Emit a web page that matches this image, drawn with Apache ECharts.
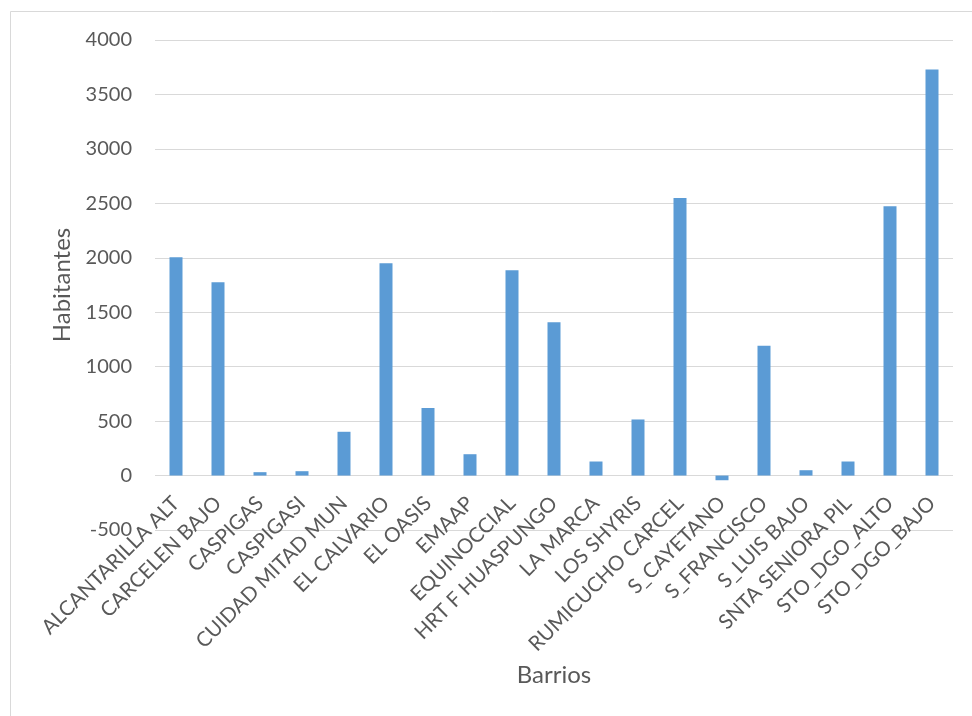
<!DOCTYPE html>
<html><head><meta charset="utf-8">
<script src="https://cdn.jsdelivr.net/npm/echarts@6/dist/echarts.min.js"></script>
<style>html,body{margin:0;padding:0;background:#fff}#c{width:972px;height:716px}</style>
</head><body><div id="c"></div>
<script>
const categories = ["ALCANTARILLA ALT","CARCELEN BAJO","CASPIGAS","CASPIGASI","CUIDAD MITAD MUN","EL CALVARIO","EL OASIS","EMAAP","EQUINOCCIAL","HRT F HUASPUNGO","LA MARCA","LOS SHYRIS","RUMICUCHO CARCEL","S_CAYETANO","S_FRANCISCO","S_LUIS BAJO","SNTA SENIORA PIL","STO_DGO_ALTO","STO_DGO_BAJO"];
const habitantes = [2005,1775,31,40,402,1950,620,196,1886,1407,129,515,2548,-43,1193,49,129,2474,3728];
const yMin = -500, yMax = 4000, yStep = 500;
const xTitle = "Barrios", yTitle = "Habitantes";

const chart = echarts.init(document.getElementById('c'), null, {renderer:'canvas'});
const font = 'Lato, "Open Sans", sans-serif';
chart.setOption({
  animation:false,
  backgroundColor:'#fff',
  graphic:[{type:'rect',shape:{x:10.5,y:11.5,width:980,height:720},style:{fill:'none',stroke:'#d9d9d9',lineWidth:1},silent:true}],
  grid:{left:155,right:19,top:40,bottom:186,containLabel:false,outerBoundsMode:'none'},
  xAxis:{
    type:'category',data:categories,position:'bottom',
    axisLine:{show:false,onZero:false},
    axisTick:{show:false},
    axisLabel:{rotate:45,interval:0,margin:-30,color:'#595959',fontSize:20.5,fontFamily:font},
    name:xTitle,nameLocation:'middle',nameGap:133,
    nameTextStyle:{color:'#595959',fontSize:24,fontFamily:font}
  },
  yAxis:{
    type:'value',min:yMin,max:yMax,interval:yStep,
    axisLine:{show:false},axisTick:{show:false},
    splitLine:{lineStyle:{color:'#d9d9d9',width:1}},
    axisLabel:{margin:23,color:'#595959',fontSize:20,fontFamily:font,formatter:v=>String(v)},
    name:yTitle,nameLocation:'middle',nameGap:81,
    nameTextStyle:{color:'#595959',fontSize:24,fontFamily:font}
  },
  series:[{type:'bar',data:habitantes,barWidth:13,
    itemStyle:{color:'#5b9bd5'}}]
});
</script></body></html>
